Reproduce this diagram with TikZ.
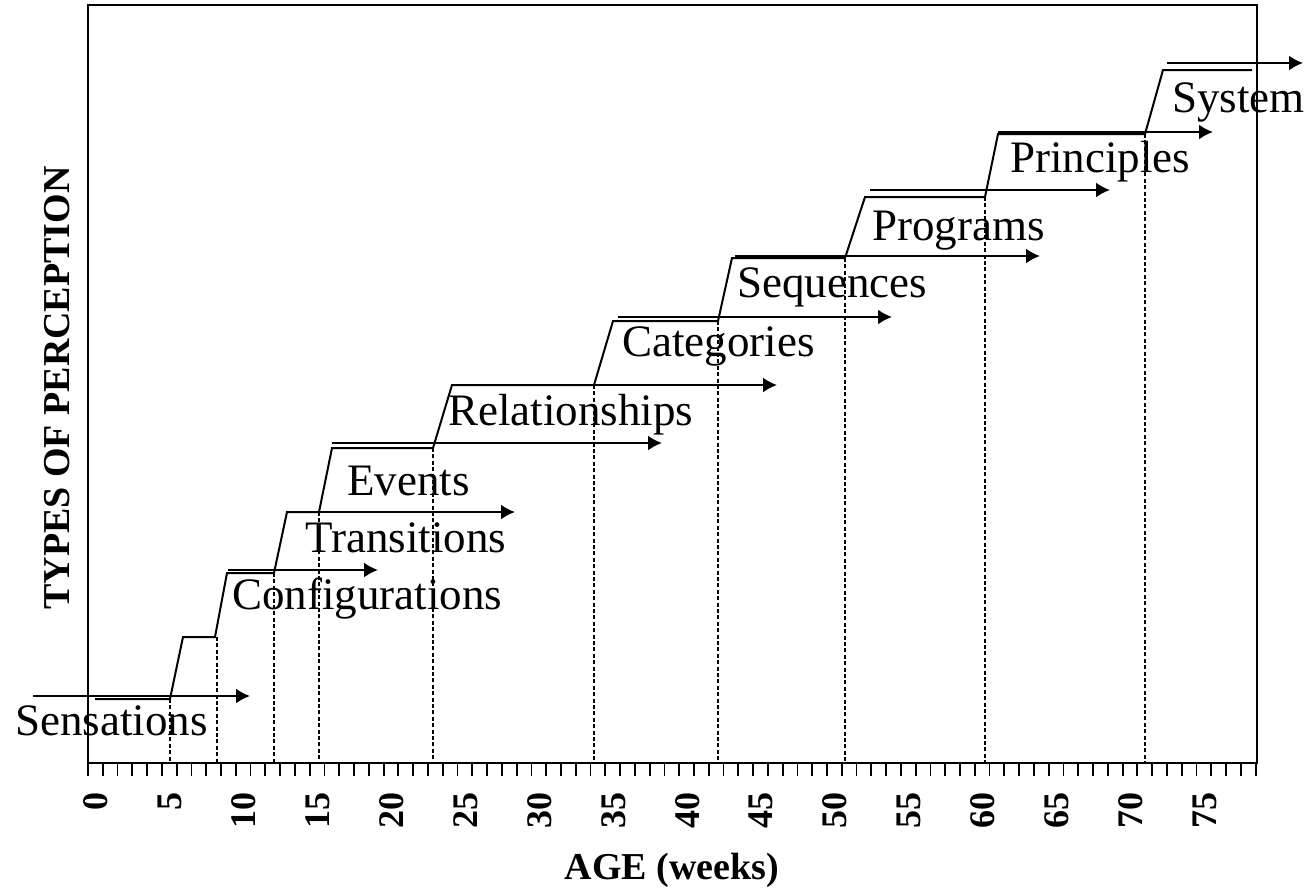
\documentclass[tikz,border=0pt]{standalone}
\usepackage{fontspec}
\setmainfont{Liberation Serif}
\usepackage{tikz}
\usetikzlibrary{arrows.meta}

\begin{document}
\begin{tikzpicture}[x=0.5pt, y=-0.5pt, >={Latex[length=7pt,width=7.5pt]},
		stage/.style={anchor=base west, inner sep=0pt, font=\fontsize{22.5}{26}\selectfont},
		guide/.style={dash pattern=on 2pt off 1.2pt, line width=0.75pt},
		flow/.style={->, line width=1pt},
		ticklab/.style={rotate=90, anchor=east, inner sep=0pt, font=\bfseries\fontsize{18}{20}\selectfont}]
		\def\wk{14.78}
		\useasboundingbox (0,0) rectangle (1305,894);
		% ---- frame and week axis ----
		\draw[line width=0.9pt] (88,5) rectangle (1257,763);
		\foreach \w in {0,...,79} \draw[line width=0.9pt] ({88+\w*\wk},763) -- ++(0,13);
		\foreach \w in {0,5,...,75} \node[ticklab] (t\w) at ({96+\w*\wk},792) {\w};
		\node[font=\bfseries\fontsize{19}{22}\selectfont] (xlab) at (672,870) {AGE (weeks)};
		\node[rotate=90, font=\bfseries\fontsize{19}{22}\selectfont] (ylab) at (57,388) {TYPES OF PERCEPTION};
		% ---- staircase ----
		\draw[line width=1pt] (95,699) -- (170,699) -- (183,637) -- (215,637) -- (227,573) -- (274,573)
			-- (287,512) -- (319,512) -- (332,448) -- (433,448) -- (452,385) -- (594,385)
			-- (613,321) -- (718,321) -- (732,258) -- (845,258) -- (865,197) -- (985,197)
			-- (998,134) -- (1145,134) -- (1163,70) -- (1252,70);
		\foreach \x/\y in {170/699, 217/637, 274/573, 319/512, 433/448, 594/385, 718/321, 845/258, 985/197, 1145/134}
			\draw[guide] (\x,\y) -- (\x,763);
		% ---- arrows of each stage ----
		\foreach \y/\a/\b in {696/33/250, 570/228/378, 512/287/515, 443/332/662, 385/452/777,
			317/618/892, 256/735/1040, 190/870/1110, 132/998/1213, 63/1167/1303}
			\draw[flow] (\a,\y) -- (\b,\y);
		% ---- stage names ----
		\foreach \n/\x/\y/\t in {sens/15/735/Sensations, conf/232/609/Configurations, tran/305/552/Transitions,
			evnt/347/495/Events, rela/448/425/Relationships, cate/622/356/Categories, sequ/737/297/Sequences,
			prog/872/240/Programs, prin/1010/172/Principles, syst/1172/112/System}
			\node[stage] (\n) at (\x,\y) {\t};
	\end{tikzpicture}
\end{document}
